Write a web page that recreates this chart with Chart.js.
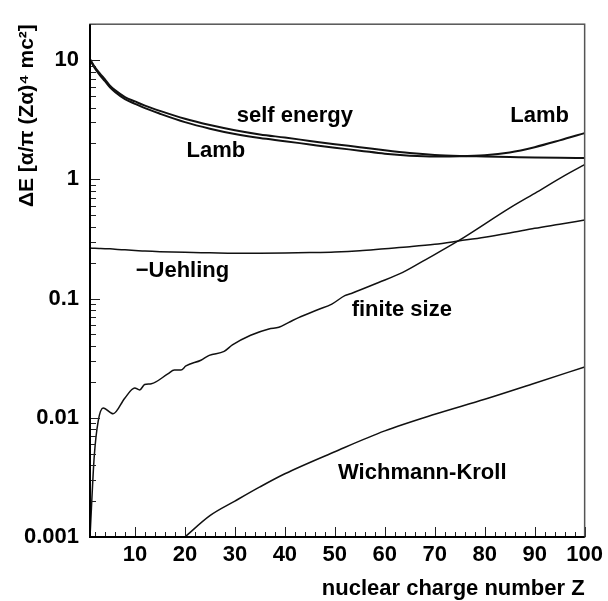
<!DOCTYPE html>
<html>
<head>
<meta charset="utf-8">
<title>QED corrections vs Z</title>
<script src="https://cdn.jsdelivr.net/npm/chart.js@4.4.0/dist/chart.umd.min.js"></script>
<style>
  body { margin: 0; background: #fff; }
  .chart-wrapper { width: 608px; height: 601px; }
</style>
</head>
<body>
<div class="chart-wrapper"><canvas id="myChart" width="608" height="601"></canvas></div>
<script>
// Z grid shared by the smooth curves
const zGrid = [1, 2, 3, 4, 5, 6, 8, 10, 12, 15, 20, 25, 30, 35, 40, 45, 50, 55, 60, 65, 70, 75, 80, 85, 90, 95, 100];
const selfEnergy = [10.2, 8.7, 7.7, 6.9, 6.1, 5.6, 4.9, 4.5, 4.15, 3.75, 3.22, 2.85, 2.58, 2.38, 2.24, 2.1, 1.97, 1.86, 1.75, 1.66, 1.6, 1.57, 1.555, 1.54, 1.525, 1.515, 1.51];
const lamb = [10.05, 8.5, 7.45, 6.65, 5.9, 5.4, 4.7, 4.3, 3.95, 3.55, 3.02, 2.66, 2.4, 2.22, 2.09, 1.96, 1.84, 1.74, 1.64, 1.58, 1.555, 1.56, 1.59, 1.68, 1.86, 2.12, 2.44];
// vacuum polarisation, drawn with its sign flipped
const minusUehling = [0.265, 0.264, 0.263, 0.262, 0.261, 0.259, 0.256, 0.253, 0.25, 0.247, 0.244, 0.242, 0.24, 0.24, 0.241, 0.243, 0.246, 0.252, 0.262, 0.272, 0.285, 0.305, 0.327, 0.355, 0.388, 0.42, 0.455];

// finite nuclear size follows the tabulated radii, so it has its own Z points
const zFinite = [1, 1.85, 2.65, 3.64, 5.63, 7.96, 9.95, 10.94, 11.93, 13.27, 16.57, 17.9, 19.2, 20.2, 23.2, 24.86, 27.84, 29.5, 33.15, 36.8, 38.8, 40.8, 42.75, 46.7, 49.4, 52.0, 53.3, 58.65, 63.6, 68.2, 74.6, 85.2, 90.5, 95.8, 100];
const finiteSize = [0.001, 0.00476, 0.00944, 0.0121, 0.0108, 0.0146, 0.0178, 0.0171, 0.019, 0.0193, 0.0233, 0.0251, 0.0251, 0.0272, 0.0304, 0.0334, 0.036, 0.0408, 0.0492, 0.0556, 0.0574, 0.0631, 0.0692, 0.0809, 0.0899, 0.1057, 0.1104, 0.1356, 0.1656, 0.2123, 0.3027, 0.582, 0.785, 1.065, 1.33];

const zWK = [20, 25, 30, 35, 40, 50, 60, 70, 80, 90, 100];
const wichmannKroll = [0.001, 0.00151, 0.002, 0.00263, 0.00339, 0.00519, 0.00776, 0.0107, 0.0143, 0.0195, 0.0267];

const xTicks = [10, 20, 30, 40, 50, 60, 70, 80, 90, 100];
const yTicks = [0.001, 0.01, 0.1, 1, 10];

// curve names, placed in data coordinates
const curveLabels = [
  { text: 'self energy', z: 42, v: 3.37 },
  { text: 'Lamb', z: 26.2, v: 1.72 },
  { text: 'Lamb', z: 91, v: 3.43 },
  { text: '\u2212Uehling', z: 19.5, v: 0.17 },
  { text: 'finite size', z: 63.4, v: 0.0804 },
  { text: 'Wichmann-Kroll', z: 67.5, v: 0.00342 }
];

const FONT = '"Liberation Sans", Arial, Helvetica, sans-serif';

function toPoints(xs, ys) {
  return xs.map((x, i) => ({ x: x, y: ys[i] }));
}

function curve(xs, ys, width) {
  return {
    data: toPoints(xs, ys),
    borderColor: '#111',
    borderWidth: width,
    pointRadius: 0,
    fill: false,
    cubicInterpolationMode: 'monotone'
  };
}

// inward tick marks, the frame and the curve names
const framePlugin = {
  id: 'framePlugin',
  afterDatasetsDraw(chart) {
    const { ctx, chartArea: a, scales: { x, y } } = chart;
    ctx.save();

    ctx.strokeStyle = '#222';
    ctx.lineWidth = 1;
    ctx.beginPath();
    for (let z = 2; z <= 100; z += 2) {
      const px = Math.round(x.getPixelForValue(z)) + 0.5;
      const len = z % 10 === 0 ? 10 : 5;
      ctx.moveTo(px, a.bottom);
      ctx.lineTo(px, a.bottom - len);
    }
    for (let e = -3; e <= 1; e++) {
      for (let m = 1; m <= 9; m++) {
        const v = m * Math.pow(10, e);
        if (v > y.max) break;
        const py = Math.round(y.getPixelForValue(v)) + 0.5;
        const len = m === 1 ? 10 : 6;
        ctx.moveTo(a.left, py);
        ctx.lineTo(a.left + len, py);
      }
    }
    ctx.stroke();

    ctx.strokeStyle = '#555';
    ctx.lineWidth = 1.5;
    ctx.strokeRect(a.left, a.top, a.right - a.left, a.bottom - a.top);
    ctx.strokeStyle = '#000';
    ctx.lineWidth = 2;
    ctx.beginPath();
    ctx.moveTo(a.left, a.top);
    ctx.lineTo(a.left, a.bottom);
    ctx.lineTo(a.right, a.bottom);
    ctx.stroke();

    ctx.fillStyle = '#000';
    ctx.font = 'bold 22px ' + FONT;
    ctx.textAlign = 'center';
    ctx.textBaseline = 'middle';
    curveLabels.forEach(l => {
      ctx.fillText(l.text, x.getPixelForValue(l.z), y.getPixelForValue(l.v));
    });
    ctx.restore();
  }
};

const ctx = document.getElementById('myChart').getContext('2d');
const chart = new Chart(ctx, {
  type: 'line',
  data: {
    datasets: [
      curve(zGrid, selfEnergy, 2),
      curve(zGrid, lamb, 2),
      curve(zGrid, minusUehling, 1.5),
      curve(zFinite, finiteSize, 1.5),
      curve(zWK, wichmannKroll, 1.5)
    ]
  },
  options: {
    responsive: false,
    animation: false,
    layout: { padding: { top: 6, right: 20, left: 0, bottom: 0 } },
    plugins: { legend: { display: false }, tooltip: { enabled: false } },
    scales: {
      x: {
        type: 'linear',
        min: 1,
        max: 100,
        afterBuildTicks: s => { s.ticks = xTicks.map(v => ({ value: v })); },
        afterFit: s => { s.height = 64; },
        grid: { display: false, drawTicks: false },
        border: { display: false },
        ticks: {
          color: '#000',
          padding: 5,
          maxRotation: 0,
          font: { family: FONT, size: 22, weight: 'bold' },
          callback: v => String(v)
        },
        title: {
          display: true,
          text: 'nuclear charge number Z',
          align: 'end',
          color: '#000',
          padding: { top: 0, bottom: -1 },
          font: { family: FONT, size: 22, weight: 'bold' }
        }
      },
      y: {
        type: 'logarithmic',
        min: 0.001,
        max: 20,
        afterBuildTicks: s => { s.ticks = yTicks.map(v => ({ value: v })); },
        afterFit: s => { s.width = 90; },
        grid: { display: false, drawTicks: false },
        border: { display: false },
        ticks: {
          color: '#000',
          padding: 11,
          font: { family: FONT, size: 22, weight: 'bold' },
          callback: v => String(v)
        },
        title: {
          display: true,
          text: '\u0394E [\u03b1/\u03c0 (Z\u03b1)\u2074 mc\u00b2]',
          align: 'end',
          color: '#000',
          padding: { top: 15, bottom: 0 },
          font: { family: FONT, size: 21, weight: 'bold' }
        }
      }
    }
  },
  plugins: [framePlugin]
});
</script>
</body>
</html>
